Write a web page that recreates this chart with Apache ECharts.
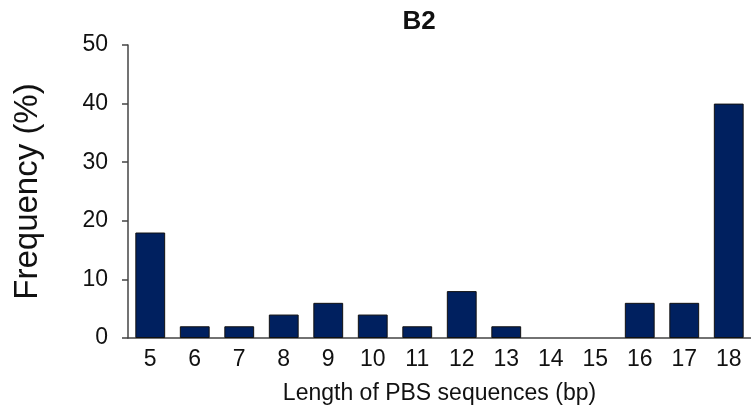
<!DOCTYPE html>
<html>
<head>
<meta charset="utf-8">
<script src="https://cdn.jsdelivr.net/npm/echarts@6/dist/echarts.min.js"></script>
<style>
  html, body { margin: 0; padding: 0; background: #fff; }
  #chart { width: 751px; height: 412px; }
</style>
</head>
<body>
<div id="chart"></div>
<script>
// PBS length categories (bp) and frequency (%)
const lengths = ['5', '6', '7', '8', '9', '10', '11', '12', '13', '14', '15', '16', '17', '18']
const frequency = [18, 2, 2, 4, 6, 4, 2, 8, 2, 0, 0, 6, 6, 40]

const fontFamily = 'Arial, "Liberation Sans", sans-serif'

const chart = echarts.init(document.getElementById('chart'))
chart.setOption({
  animation: false,
  title: {
    text: 'B2',
    left: 414,
    top: 4,
    textAlign: 'center',
    textStyle: { fontFamily, fontSize: 26, fontWeight: 'bold', color: '#111' },
  },
  grid: { left: 128, right: -3, top: 45, bottom: 74 },
  xAxis: {
    type: 'category',
    data: lengths,
    name: 'Length of PBS sequences (bp)',
    nameLocation: 'middle',
    nameGap: 44,
    nameTextStyle: { fontFamily, fontSize: 23, color: '#111' },
    axisLine: { lineStyle: { color: '#444', width: 1.5 } },
    axisTick: { show: false },
    axisLabel: { fontFamily, fontSize: 23, color: '#111', margin: 10 },
  },
  yAxis: {
    type: 'value',
    min: 0,
    max: 50,
    interval: 10,
    name: 'Frequency (%)',
    nameLocation: 'middle',
    nameGap: 84,
    nameTextStyle: { fontFamily, fontSize: 33, color: '#111' },
    axisLine: { show: true, lineStyle: { color: '#444', width: 1.5 } },
    axisTick: { show: true, length: 6, lineStyle: { color: '#444', width: 1.5 } },
    axisLabel: { fontFamily, fontSize: 23, color: '#111', margin: 20 },
    splitLine: { show: false },
  },
  series: [{
    type: 'bar',
    data: frequency.map(v => ({ value: v, itemStyle: { borderWidth: v === 0 ? 0 : 1 } })),
    barWidth: '67%',
    itemStyle: { color: '#00205f', borderColor: '#111', borderWidth: 1 },
  }],
})
</script>
</body>
</html>
